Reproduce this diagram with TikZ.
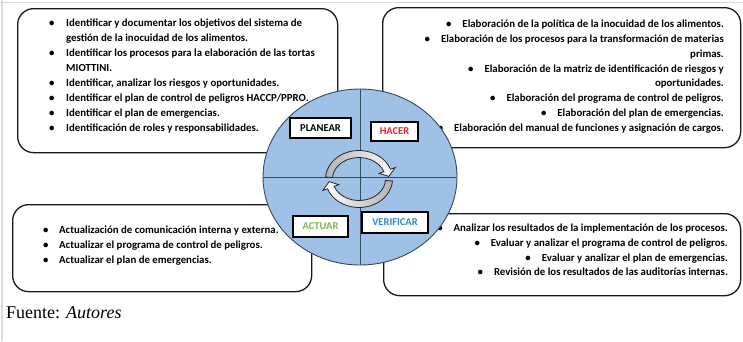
\documentclass[tikz,border=0pt]{standalone}
\usepackage{fontspec}
\setmainfont{Liberation Serif}
\newfontfamily\carl{Carlito}
\usetikzlibrary{calc,shapes.geometric}
\definecolor{pdcafill}{HTML}{A0C1E6}
\definecolor{pdcaline}{HTML}{34495F}
\definecolor{hacerred}{HTML}{E5262B}
\definecolor{actuargreen}{HTML}{7DB84A}
\definecolor{verifblue}{HTML}{2E8BC9}
\definecolor{frame}{HTML}{DCDCDC}
\tikzset{
  panel/.style={draw=black!90, line width=1.3pt, rounded corners=16pt, fill=white, inner sep=0pt, anchor=north west},
  listtext/.style={inner sep=0pt, font=\carl\bfseries\fontsize{10.8}{14.9}\selectfont},
  stage/.style={draw=black, line width=1.1pt, fill=white, inner sep=0pt, font=\carl\bfseries\fontsize{10.5}{12}\selectfont},
  cycarrow/.style={draw=black!85, line width=0.8pt}
}
\newcommand{\bl}{\makebox[17pt][l]{\textbullet}}
\newcommand{\br}{\textbullet\hspace{11pt}}
\begin{document}
\begin{tikzpicture}[x=1pt,y=-1pt]
\useasboundingbox (0,0) rectangle (743,341);
\fill[white] (0,0) rectangle (743,341);
\draw[frame, line width=1.5pt] (0,2.5) -- (743,2.5);
\draw[frame, line width=1.5pt] (2,0) -- (2,341);

% panels
\node[panel, minimum width=320pt, minimum height=144pt] (tl) at (17,8) {};
\node[panel, minimum width=358pt, minimum height=140pt] (tr) at (382,7) {};
\node[panel, minimum width=299pt, minimum height=87pt] (bl) at (12,204) {};
\node[panel, minimum width=357pt, minimum height=82pt] (br) at (383,213) {};

% texts
\node[listtext, anchor=north west, align=left] (tltext) at (49,19) {%
\bl Identificar y documentar los objetivos del sistema de\\
\hspace*{17pt}gestión de la inocuidad de los alimentos.\\
\bl Identificar los procesos para la elaboración de las tortas\\
\hspace*{17pt}MIOTTINI.\\
\bl Identificar, analizar los riesgos y oportunidades.\\
\bl Identificar el plan de control de peligros HACCP/PPRO.\\
\bl Identificar el plan de emergencias.\\
\bl Identificación de roles y responsabilidades.};

\node[listtext, anchor=north east, align=right] (trtext) at (724,19.5) {%
\br Elaboración de la política de la inocuidad de los alimentos.\\
\br Elaboración de los procesos para la transformación de materias\\
primas.\\
\br Elaboración de la matriz de identificación de riesgos y\\
oportunidades.\\
\br Elaboración del programa de control de peligros.\\
\br Elaboración del plan de emergencias.\\
\br Elaboración del manual de funciones y asignación de cargos.};

\node[listtext, anchor=north west, align=left] (bltext) at (43,225.5) {%
\makebox[16pt][l]{\textbullet}Actualización de comunicación interna y externa.\\
\makebox[16pt][l]{\textbullet}Actualizar el programa de control de peligros.\\
\makebox[16pt][l]{\textbullet}Actualizar el plan de emergencias.};

\node[listtext, anchor=north east, align=right] (brtext) at (728,223.5) {%
\br Analizar los resultados de la implementación de los procesos.\\
\br Evaluar y analizar el programa de control de peligros.\\
\br Evaluar y analizar el plan de emergencias.\\
\br Revisión de los resultados de las auditorías internas.};

% PDCA ellipse
\node[ellipse, draw=pdcaline, line width=0.9pt, fill=pdcafill, minimum width=194pt, minimum height=176pt, inner sep=0pt] (pdca) at (360,177) {};
\draw[pdcaline, line width=0.9pt] (pdca.north) -- (pdca.south);
\draw[pdcaline, line width=0.9pt] (pdca.west) -- (pdca.east);

% stage labels
\node[stage, minimum width=61pt, minimum height=20pt] (planear) at (320.5,128) {PLANEAR};
\node[stage, minimum width=47pt, minimum height=19pt, text=hacerred] (hacer) at (394.5,131.5) {HACER};
\node[stage, minimum width=55pt, minimum height=21pt, text=actuargreen] (actuar) at (320.5,226.5) {ACTUAR};
\node[stage, minimum width=66pt, minimum height=21pt, text=verifblue] (verificar) at (395,222.5) {VERIFICAR};

% cycle arrows
\coordinate (cyc) at (359,179);
\path[cycarrow, left color=gray!60, right color=white]
  ($(cyc)+(184:33.5 and 28.5)$) arc[start angle=184, end angle=340, x radius=33.5, y radius=28.5]
  -- ($(cyc)+(340:38.5 and 33.5)$) -- ($(cyc)+(354:30 and 25)$) -- ($(cyc)+(340:21.5 and 16.5)$)
  -- ($(cyc)+(340:26.5 and 21.5)$) arc[start angle=340, end angle=184, x radius=26.5, y radius=21.5] -- cycle;
\path[cycarrow, right color=gray!60, left color=white]
  ($(cyc)+(4:33.5 and 28.5)$) arc[start angle=4, end angle=160, x radius=33.5, y radius=28.5]
  -- ($(cyc)+(160:38.5 and 33.5)$) -- ($(cyc)+(174:30 and 25)$) -- ($(cyc)+(160:21.5 and 16.5)$)
  -- ($(cyc)+(160:26.5 and 21.5)$) arc[start angle=160, end angle=4, x radius=26.5, y radius=21.5] -- cycle;

% source
\node[anchor=base west, inner sep=0pt, font=\fontsize{18}{21}\selectfont] (fuente) at (6,318) {Fuente: \textit{Autores}};
\end{tikzpicture}
\end{document}
